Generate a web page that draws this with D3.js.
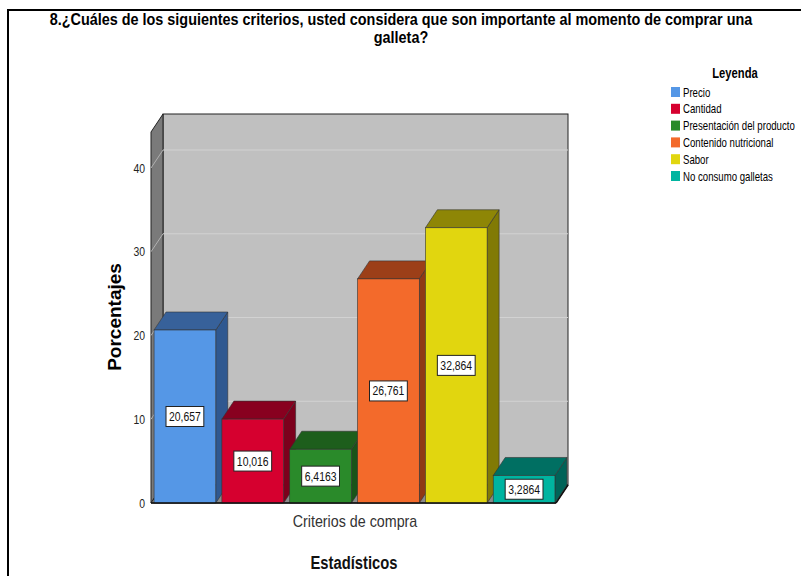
<!DOCTYPE html>
<html>
<head>
<meta charset="utf-8">
<script src="https://cdn.jsdelivr.net/npm/d3@7"></script>
<style>
  html, body { margin: 0; padding: 0; background: #fff; }
  svg { display: block; }
  text { font-family: "Liberation Sans", Arial, sans-serif; }
</style>
</head>
<body>
<svg id="chart" width="801" height="576"></svg>
<script>
// Survey results: purchase criteria for biscuits (percentages)
const categories = ["Precio", "Cantidad", "Presentación del producto", "Contenido nutricional", "Sabor", "No consumo galletas"];
const values = [20.657, 10.016, 6.4163, 26.761, 32.864, 3.2864];
const valueLabels = ["20,657", "10,016", "6,4163", "26,761", "32,864", "3,2864"];
const yTicks = [0, 10, 20, 30, 40];
const titleLines = ["8.¿Cuáles de los siguientes criterios, usted considera que son importante al momento de comprar una", "galleta?"];
const frontColors = ["#5597e6", "#d6002f", "#2a8a2a", "#f36a2b", "#e1d60f", "#00b4a0"];
const topColors   = ["#37619a", "#88001f", "#1d5e1c", "#9c3f18", "#8e8606", "#006f62"];
const sideColors  = ["#2f5890", "#7c001c", "#1a5419", "#8f3815", "#817a05", "#006358"];

const svg = d3.select("#chart");

// Narrow-font look: squeeze each text horizontally by a factor
function condense(sel, factor) {
  sel.each(function() {
    const w = this.getComputedTextLength();
    d3.select(this).attr("textLength", w * factor).attr("lengthAdjust", "spacingAndGlyphs");
  });
  return sel;
}

// Frame around the figure
svg.append("path")
  .attr("d", "M8,576 L8,10 L801,10")
  .attr("fill", "none").attr("stroke", "#000").attr("stroke-width", 2);

// Title
svg.selectAll("text.title").data(titleLines).enter().append("text")
  .attr("class", "title")
  .attr("x", 401).attr("y", (d, i) => 24.5 + i * 18)
  .attr("text-anchor", "middle")
  .attr("font-size", 16).attr("font-weight", "bold").attr("fill", "#000")
  .text(d => d)
  .call(condense, 0.9);

// 3D plot geometry
const x0 = 151, x1 = 556, yBase = 503, yTop = 132;
const dx = 12, dy = -18;

const y = d3.scaleLinear().domain([0, 44.3]).range([yBase, yTop]);
const x = d3.scaleBand().domain(categories).range([x0, 558])
  .paddingInner(0.09).paddingOuter(0.045);

const plot = svg.append("g");

// Back wall
plot.append("rect")
  .attr("x", x0 + dx).attr("y", yTop + dy)
  .attr("width", x1 - x0).attr("height", yBase - yTop)
  .attr("fill", "#c0c0c0").attr("stroke", "#222").attr("stroke-width", 1);

// Left wall
plot.append("path")
  .attr("d", `M${x0},${yBase} L${x0},${yTop} L${x0 + dx},${yTop + dy} L${x0 + dx},${yBase + dy} Z`)
  .attr("fill", "#7a7a7a").attr("stroke", "#222").attr("stroke-width", 1);

// Floor
plot.append("path")
  .attr("d", `M${x0},${yBase} L${x1},${yBase} L${x1 + dx},${yBase + dy} L${x0 + dx},${yBase + dy} Z`)
  .attr("fill", "#8a8a8a").attr("stroke", "#222").attr("stroke-width", 1);

// Gridlines on back wall and left wall
const grid = plot.append("g");
yTicks.filter(t => t > 0).forEach(t => {
  grid.append("line")
    .attr("x1", x0 + dx).attr("x2", x1 + dx)
    .attr("y1", y(t) + dy).attr("y2", y(t) + dy)
    .attr("stroke", "#d2d2d2").attr("stroke-width", 1);
  grid.append("line")
    .attr("x1", x0).attr("x2", x0 + dx)
    .attr("y1", y(t)).attr("y2", y(t) + dy)
    .attr("stroke", "#b0b0b0").attr("stroke-width", 1);
});

// Y axis labels
const axis = d3.axisLeft(y).tickValues(yTicks).tickSize(0).tickPadding(6).tickFormat(d3.format("d"));
const axG = svg.append("g").attr("transform", `translate(${x0},0)`).call(axis);
axG.select(".domain").remove();
axG.selectAll("text").attr("font-size", 13).attr("fill", "#222")
  .style("font-family", "\"Liberation Sans\", Arial, sans-serif")
  .call(condense, 0.8);

// Bars
const bars = plot.selectAll("g.bar").data(categories).enter().append("g").attr("class", "bar");
bars.each(function(c, i) {
  const g = d3.select(this);
  const bx = x(c), bw = x.bandwidth(), by = y(values[i]);
  // side face
  g.append("path")
    .attr("d", `M${bx + bw},${yBase} L${bx + bw},${by} L${bx + bw + dx},${by + dy} L${bx + bw + dx},${yBase + dy} Z`)
    .attr("fill", sideColors[i]).attr("stroke", "#333").attr("stroke-width", 0.6);
  // top face
  g.append("path")
    .attr("d", `M${bx},${by} L${bx + bw},${by} L${bx + bw + dx},${by + dy} L${bx + dx},${by + dy} Z`)
    .attr("fill", topColors[i]).attr("stroke", "#333").attr("stroke-width", 0.6);
  // front face
  g.append("rect")
    .attr("x", bx).attr("y", by).attr("width", bw).attr("height", yBase - by)
    .attr("fill", frontColors[i]).attr("stroke", "#333").attr("stroke-width", 0.6);
});

// Front floor edge
plot.append("line")
  .attr("x1", x0).attr("x2", x1).attr("y1", yBase).attr("y2", yBase)
  .attr("stroke", "#111").attr("stroke-width", 1.5);
plot.append("line")
  .attr("x1", x1).attr("x2", x1 + dx).attr("y1", yBase).attr("y2", yBase + dy)
  .attr("stroke", "#111").attr("stroke-width", 1.5);

// Value labels in boxes
bars.each(function(c, i) {
  const g = d3.select(this);
  const cx = x(c) + x.bandwidth() / 2;
  const cy = y(values[i] / 2);
  const t = g.append("text")
    .attr("x", cx).attr("y", cy + 4.5)
    .attr("text-anchor", "middle").attr("font-size", 13).attr("fill", "#111")
    .text(valueLabels[i])
    .call(condense, 0.8);
  const w = +t.attr("textLength");
  g.insert("rect", "text")
    .attr("x", cx - w / 2 - 3).attr("y", cy - 10)
    .attr("width", w + 6).attr("height", 20)
    .attr("fill", "#fff").attr("stroke", "#222").attr("stroke-width", 1);
});

// Axis titles
svg.append("text")
  .attr("transform", "translate(121,317) rotate(-90)")
  .attr("text-anchor", "middle").attr("font-size", 19).attr("font-weight", "bold")
  .attr("fill", "#000").text("Porcentajes");

svg.append("text")
  .attr("x", 355).attr("y", 527)
  .attr("text-anchor", "middle").attr("font-size", 17).attr("fill", "#333")
  .text("Criterios de compra")
  .call(condense, 0.84);

svg.append("text")
  .attr("x", 354).attr("y", 569)
  .attr("text-anchor", "middle").attr("font-size", 18).attr("font-weight", "bold").attr("fill", "#111")
  .text("Estadísticos")
  .call(condense, 0.82);

// Legend
const legend = svg.append("g");
legend.append("text")
  .attr("x", 735).attr("y", 78)
  .attr("text-anchor", "middle").attr("font-size", 14).attr("font-weight", "bold").attr("fill", "#000")
  .text("Leyenda")
  .call(condense, 0.8);
const items = legend.selectAll("g.item").data(categories).enter().append("g").attr("class", "item")
  .attr("transform", (d, i) => `translate(671,${92 + i * 16.8})`);
items.append("rect")
  .attr("x", 0).attr("y", -5).attr("width", 9).attr("height", 10)
  .attr("fill", (d, i) => frontColors[i]);
items.append("text")
  .attr("x", 12).attr("y", 4.5)
  .attr("font-size", 13).attr("fill", "#000")
  .text(d => d)
  .call(condense, 0.74);
</script>
</body>
</html>
